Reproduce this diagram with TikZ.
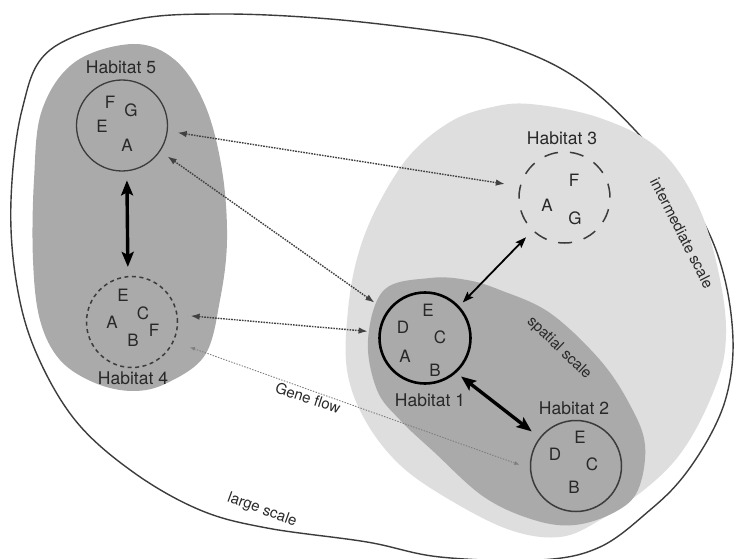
\documentclass[tikz,border=0pt]{standalone}
\usepackage{fontspec}
\setmainfont{TeX Gyre Heros}
\usetikzlibrary{arrows.meta}
\definecolor{darkfill}{RGB}{170,170,170}
\definecolor{lightfill}{RGB}{222,222,222}
\definecolor{ink}{RGB}{40,40,40}
\definecolor{dotink}{RGB}{65,65,65}
\definecolor{geneink}{RGB}{125,125,125}
\definecolor{rimink}{RGB}{60,60,60}
\begin{document}
\begin{tikzpicture}[x=1pt,y=-1pt,
  habitat/.style={circle, minimum size=91pt, inner sep=0pt},
  lbl/.style={font=\fontsize{17.5}{20}\selectfont, text=ink, inner sep=0pt},
  letter/.style={font=\fontsize{17}{20}\selectfont, text=ink, inner sep=0pt},
  smalllbl/.style={font=\fontsize{15}{18}\selectfont, text=ink, inner sep=0pt},
  dotarrow/.style={dotink, line width=1.4pt, dash pattern=on 1.6pt off 1.1pt,
     {Latex[length=9pt,width=6.5pt]}-{Latex[length=9pt,width=6.5pt]}},
  genearrow/.style={geneink, line width=0.9pt, dash pattern=on 1.4pt off 1.4pt,
     {Latex[length=5pt,width=4pt]}-{Latex[length=5pt,width=4pt]}},
  thickarrow/.style={black, line width=3.4pt,
     {Stealth[length=15pt,width=12pt,inset=3pt]}-{Stealth[length=15pt,width=12pt,inset=3pt]}},
  midarrow/.style={black, line width=1.8pt,
     {Stealth[length=11pt,width=8pt,inset=2pt]}-{Stealth[length=11pt,width=8pt,inset=2pt]}}
]
\useasboundingbox (0,0) rectangle (734,559);
\fill[white] (0,0) rectangle (734,559);
\clip (0,0) rectangle (734,559);

% large scale outline
\draw[rimink, line width=1.4pt] plot[smooth cycle, tension=0.6] coordinates {
 (50,50) (133,20) (220,14) (330,19) (450,33) (500,43) (560,68) (610,105)
 (667,167) (705,225) (725,280) (733,340) (728,390) (712,432) (683,477)
 (650,510) (600,547) (540,560) (440,557) (367,542) (267,528) (200,510)
 (133,472) (75,420) (35,350) (16,280) (11,200) (22,110)};

% intermediate scale region
\fill[lightfill] plot[smooth cycle, tension=0.6] coordinates {
 (530,104) (600,118) (660,150) (700,210) (722,290) (725,350) (710,400)
 (683,450) (650,485) (600,520) (560,537) (510,530) (450,500) (400,465)
 (365,420) (347,370) (348,310) (358,255) (378,205) (410,155) (450,122) (488,108)};

% spatial scale region
\fill[darkfill] plot[smooth cycle, tension=0.6] coordinates {
 (384,290) (430,278) (467,280) (500,290) (550,313) (600,360) (630,405)
 (645,445) (638,490) (615,512) (575,525) (534,520) (484,497) (434,452)
 (400,420) (377,390) (368,340)};

% left region
\fill[darkfill] plot[smooth cycle, tension=0.6] coordinates {
 (133,44) (175,60) (205,105) (222,170) (227,240) (220,300) (205,355)
 (167,383) (133,391) (95,383) (60,360) (40,320) (33,260) (34,180) (42,110) (75,62)};

% habitats
\node[habitat, draw=rimink, line width=1.3pt] (h5) at (122,125.5) {};
\node[habitat, draw=rimink, line width=1.5pt, dash pattern=on 4pt off 3.5pt] (h4) at (132,322) {};
\node[habitat, draw=rimink, line width=1.5pt, dash pattern=on 14pt off 12pt] (h3) at (564.5,197.5) {};
\node[habitat, draw=black, line width=2.6pt] (h1) at (425,338) {};
\node[habitat, draw=rimink, line width=1.5pt] (h2) at (576,466) {};

% labels
\node[lbl] (l5) at (121,67) {Habitat 5};
\node[lbl] (l4) at (133,378) {Habitat 4};
\node[lbl] (l3) at (562,138) {Habitat 3};
\node[lbl] (l1) at (430,400) {Habitat 1};
\node[lbl] (l2) at (574,408) {Habitat 2};

% species letters
\node[letter] (h5F) at (110,102) {F};
\node[letter] (h5G) at (131,110) {G};
\node[letter] (h5E) at (102,126) {E};
\node[letter] (h5A) at (127,145) {A};

\node[letter] (h4E) at (123,295) {E};
\node[letter] (h4C) at (143,313) {C};
\node[letter] (h4A) at (112,322) {A};
\node[letter] (h4F) at (154,330) {F};
\node[letter] (h4B) at (133,340) {B};

\node[letter] (h3F) at (574,180) {F};
\node[letter] (h3A) at (547,205) {A};
\node[letter] (h3G) at (575,218) {G};

\node[letter] (h1E) at (428,310) {E};
\node[letter] (h1D) at (403,327) {D};
\node[letter] (h1C) at (440,337) {C};
\node[letter] (h1A) at (405,356) {A};
\node[letter] (h1B) at (435,370) {B};

\node[letter] (h2E) at (580,437) {E};
\node[letter] (h2D) at (555,454) {D};
\node[letter] (h2C) at (592,464) {C};
\node[letter] (h2B) at (574,487) {B};

% scale labels
\node[smalllbl, rotate=-63] (intscale) at (682,233) {intermediate scale};
\node[smalllbl, rotate=-44] (spscale) at (559,348) {spatial scale};
\node[smalllbl, rotate=-20] (lgscale) at (262,510) {large scale};
\node[smalllbl, rotate=-18] (gene) at (308,398) {Gene flow};

% connectors
\draw[dotarrow, shorten <=10pt, shorten >=15pt] (h5.-7) -- (h3.166);
\draw[dotarrow, shorten <=9pt, shorten >=15pt] (h5.-34) -- (h1.145);
\draw[dotarrow, shorten <=13pt, shorten >=11pt] (h4.9) -- (h1.173);
\draw[genearrow, shorten <=17pt, shorten >=11pt] (h4.-25) -- (h2.183);
\draw[thickarrow, shorten <=9pt, shorten >=9pt] (h5.-84) -- (h4.95);
\draw[thickarrow, shorten <=6pt, shorten >=10pt] (h1.-48) -- (h2.142);
\draw[midarrow, shorten <=5pt, shorten >=9pt] (h1.43) -- (h3.226);
\end{tikzpicture}
\end{document}
